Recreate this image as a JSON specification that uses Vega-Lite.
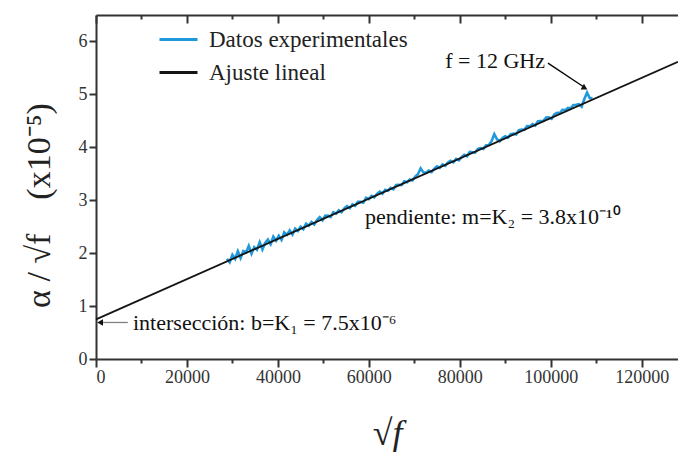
{
  "$schema": "https://vega.github.io/schema/vega-lite/v6.json",
  "width": 582,
  "height": 344,
  "autosize": {"type": "none"},
  "padding": {"left": 96, "top": 15, "right": 0, "bottom": 93},
  "background": "white",
  "config": {
    "view": {"stroke": null},
    "font": "Liberation Serif",
    "axis": {
      "labelFont": "Liberation Serif",
      "labelFontSize": 18,
      "labelColor": "#333",
      "domainColor": "#333",
      "domainWidth": 2,
      "tickColor": "#333",
      "tickWidth": 2,
      "grid": false,
      "titleFont": "Liberation Serif",
      "titleFontWeight": "normal",
      "titleColor": "#222"
    }
  },
  "datasets": {
    "exp": [
      {"x":28800,"y":1.894},{"x":29400,"y":1.827},{"x":30000,"y":1.970},{"x":30600,"y":1.893},{"x":31200,"y":2.036},{"x":31800,"y":1.908},{"x":32400,"y":2.041},{"x":33000,"y":2.014},{"x":33600,"y":2.137},{"x":34200,"y":1.990},
      {"x":34800,"y":2.112},{"x":35400,"y":2.065},{"x":36000,"y":2.208},{"x":36600,"y":2.071},{"x":37200,"y":2.194},{"x":37800,"y":2.256},{"x":38400,"y":2.169},{"x":39000,"y":2.312},{"x":39600,"y":2.235},{"x":40200,"y":2.328},
      {"x":40800,"y":2.250},{"x":41400,"y":2.393},{"x":42000,"y":2.346},{"x":42600,"y":2.429},{"x":43200,"y":2.352},{"x":43800,"y":2.464},{"x":44400,"y":2.417},{"x":45000,"y":2.500},{"x":45600,"y":2.453},{"x":46200,"y":2.556},
      {"x":46800,"y":2.518},{"x":47400,"y":2.591},{"x":48000,"y":2.544},{"x":48600,"y":2.627},{"x":49200,"y":2.680},{"x":49800,"y":2.622},{"x":50400,"y":2.705},{"x":51000,"y":2.708},{"x":51600,"y":2.681},{"x":52200,"y":2.774},
      {"x":52800,"y":2.746},{"x":53400,"y":2.809},{"x":54000,"y":2.772},{"x":54600,"y":2.845},{"x":55200,"y":2.888},{"x":55800,"y":2.850},{"x":56400,"y":2.923},{"x":57000,"y":2.896},{"x":57600,"y":2.969},{"x":58200,"y":2.972},
      {"x":58800,"y":2.954},{"x":59400,"y":3.047},{"x":60000,"y":3.020},{"x":60600,"y":3.083},{"x":61200,"y":3.056},{"x":61800,"y":3.118},{"x":62400,"y":3.161},{"x":63000,"y":3.124},{"x":63600,"y":3.197},{"x":64200,"y":3.180},
      {"x":64800,"y":3.232},{"x":65400,"y":3.205},{"x":66000,"y":3.288},{"x":66600,"y":3.291},{"x":67200,"y":3.284},{"x":67800,"y":3.356},{"x":68400,"y":3.339},{"x":69000,"y":3.392},{"x":69600,"y":3.375},{"x":70200,"y":3.448},
      {"x":70800,"y":3.490},{"x":71400,"y":3.603},{"x":72000,"y":3.526},{"x":72600,"y":3.519},{"x":73200,"y":3.562},{"x":73800,"y":3.534},{"x":74400,"y":3.597},{"x":75000,"y":3.640},{"x":75600,"y":3.613},{"x":76200,"y":3.676},
      {"x":76800,"y":3.648},{"x":77400,"y":3.711},{"x":78000,"y":3.744},{"x":78600,"y":3.717},{"x":79200,"y":3.780},{"x":79800,"y":3.752},{"x":80400,"y":3.815},{"x":81000,"y":3.858},{"x":81600,"y":3.831},{"x":82200,"y":3.914},
      {"x":82800,"y":3.906},{"x":83400,"y":3.899},{"x":84000,"y":3.972},{"x":84600,"y":3.985},{"x":85200,"y":3.968},{"x":85800,"y":4.040},{"x":86400,"y":4.043},{"x":87000,"y":4.116},{"x":87600,"y":4.249},{"x":88200,"y":4.152},
      {"x":88800,"y":4.114},{"x":89400,"y":4.177},{"x":90000,"y":4.210},{"x":90600,"y":4.183},{"x":91200,"y":4.246},{"x":91800,"y":4.258},{"x":92400,"y":4.241},{"x":93000,"y":4.324},{"x":93600,"y":4.337},{"x":94200,"y":4.330},
      {"x":94800,"y":4.402},{"x":95400,"y":4.395},{"x":96000,"y":4.438},{"x":96600,"y":4.411},{"x":97200,"y":4.494},{"x":97800,"y":4.496},{"x":98400,"y":4.499},{"x":99000,"y":4.562},{"x":99600,"y":4.565},{"x":100200,"y":4.538},
      {"x":100800,"y":4.620},{"x":101400,"y":4.653},{"x":102000,"y":4.646},{"x":102600,"y":4.709},{"x":103200,"y":4.702},{"x":103800,"y":4.744},{"x":104400,"y":4.737},{"x":105000,"y":4.800},{"x":105600,"y":4.803},{"x":106200,"y":4.816},
      {"x":106800,"y":4.768},{"x":107400,"y":4.911},{"x":108000,"y":5.034},{"x":108600,"y":4.927},{"x":109200,"y":4.930}
    ],
    "fit": [
      {"x":0,"y":0.75},{"x":128000,"y":5.614}
    ],
    "rlabels": [
      {"x":98750,"y":5.63,"label":"f = 12 GHz"}
    ],
    "llabels": [
      {"x":59150,"y":2.68,"label":"pendiente: m=K₂ = 3.8x10⁻¹⁰"},
      {"x":8140,"y":0.68,"label":"intersección: b=K₁ = 7.5x10⁻⁶"}
    ],
    "arrows": [
      {"x":99400,"y":5.59,"x2":107300,"y2":5.14,"c":"black"},
      {"x":7000,"y":0.69,"x2":1200,"y2":0.69,"c":"gray"}
    ],
    "heads": [
      {"x":107500,"y":5.12,"a":30},
      {"x":900,"y":0.69,"a":180}
    ]
  },
  "resolve": {"axis": {"x": "independent"}},
  "layer": [
    {
      "data": {"name": "exp"},
      "mark": {"type": "line", "strokeWidth": 2.6, "strokeJoin": "miter"},
      "encoding": {
        "x": {
          "field": "x", "type": "quantitative",
          "scale": {"domain": [0, 128000], "nice": false},
          "axis": {
            "orient": "bottom",
            "values": [0,10000,20000,30000,40000,50000,60000,70000,80000,90000,100000,110000,120000],
            "format": "d",
            "labelExpr": "datum.value % 20000 === 0 ? datum.label : ''",
            "labelFont": "Liberation Serif",
            "tickSize": {"condition": {"test": "datum.value % 20000 === 0", "value": 8}, "value": 4},
            "labelPadding": 1,
            "title": "√f",
            "titleFontSize": 36,
            "titleFontStyle": "italic",
            "titlePadding": 30
          }
        },
        "y": {
          "field": "y", "type": "quantitative",
          "scale": {"domain": [0, 6.5], "nice": false},
          "axis": {
            "values": [0,0.5,1,1.5,2,2.5,3,3.5,4,4.5,5,5.5,6],
            "labelExpr": "datum.value % 1 === 0 ? datum.label : ''",
            "labelFont": "Liberation Serif",
            "tickSize": {"condition": {"test": "datum.value % 1 === 0", "value": 7}, "value": 4},
            "labelPadding": 2,
            "title": "α / √f\u2003(x10⁻⁵)",
            "titleFontSize": 34,
            "titlePadding": 22,
            "titleY": 190
          }
        },
        "color": {
          "datum": "Datos experimentales",
          "type": "nominal",
          "scale": {"domain": ["Datos experimentales", "Ajuste lineal"], "range": ["#1f98dc", "#151515"]},
          "legend": {
            "orient": "none",
            "legendX": 62,
            "legendY": 4,
            "title": null,
            "symbolType": "stroke",
            "symbolSize": 1444,
            "symbolStrokeWidth": 3,
            "labelFont": "Liberation Serif",
            "labelFontSize": 23,
            "labelColor": "#222",
            "labelOffset": 10,
            "rowPadding": -6,
            "labelLimit": 400
          }
        }
      }
    },
    {
      "data": {"name": "fit"},
      "mark": {"type": "line", "strokeWidth": 1.8},
      "encoding": {
        "x": {
          "field": "x", "type": "quantitative",
          "axis": {
            "orient": "top",
            "values": [0,10000,20000,30000,40000,50000,60000,70000,80000,90000,100000,110000,120000],
            "labels": false,
            "title": null,
            "tickSize": {"condition": {"test": "datum.value % 20000 === 0", "value": -8}, "value": -4}
          }
        },
        "y": {"field": "y", "type": "quantitative"},
        "color": {"datum": "Ajuste lineal", "type": "nominal"}
      }
    },
    {
      "data": {"name": "arrows"},
      "mark": {"type": "rule", "strokeWidth": 1.3},
      "encoding": {
        "x": {"field": "x", "type": "quantitative", "axis": null},
        "y": {"field": "y", "type": "quantitative"},
        "x2": {"field": "x2"},
        "y2": {"field": "y2"},
        "stroke": {"field": "c", "type": "nominal", "scale": null}
      }
    },
    {
      "data": {"name": "heads"},
      "mark": {"type": "point", "shape": "triangle-right", "filled": true, "size": 45, "color": "#111", "opacity": 1},
      "encoding": {
        "x": {"field": "x", "type": "quantitative", "axis": null},
        "y": {"field": "y", "type": "quantitative"},
        "angle": {"field": "a", "type": "quantitative", "scale": null}
      }
    },
    {
      "data": {"name": "rlabels"},
      "mark": {"type": "text", "font": "Liberation Serif", "fontSize": 22, "color": "#111", "baseline": "middle", "align": "right"},
      "encoding": {
        "x": {"field": "x", "type": "quantitative", "axis": null},
        "y": {"field": "y", "type": "quantitative"},
        "text": {"field": "label"}
      }
    },
    {
      "data": {"name": "llabels"},
      "mark": {"type": "text", "font": "Liberation Serif", "fontSize": 22, "color": "#111", "baseline": "middle", "align": "left"},
      "encoding": {
        "x": {"field": "x", "type": "quantitative", "axis": null},
        "y": {"field": "y", "type": "quantitative"},
        "text": {"field": "label"}
      }
    }
  ]
}
